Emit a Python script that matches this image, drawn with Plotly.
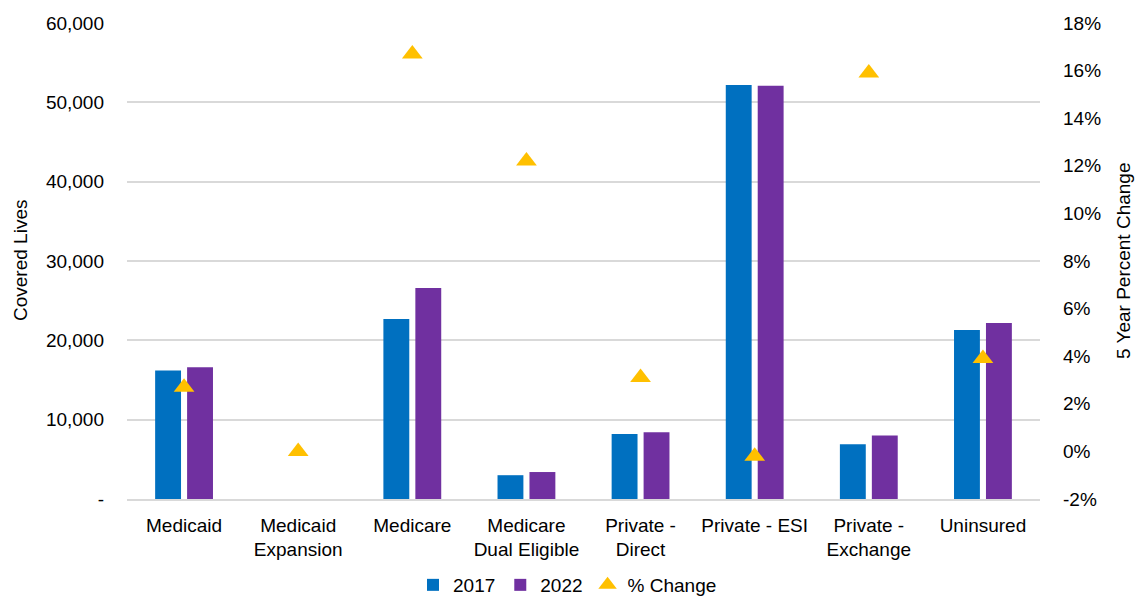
import plotly.graph_objects as go

categories = ["Medicaid", "Medicaid<br>Expansion", "Medicare", "Medicare<br>Dual Eligible",
              "Private -<br>Direct", "Private - ESI", "Private -<br>Exchange", "Uninsured"]
lives_2017 = [16200, 0, 22700, 3000, 8200, 52200, 6900, 21300]
lives_2022 = [16600, 0, 26600, 3400, 8400, 52100, 8000, 22200]
pct_change = [0.027, 0.0, 0.167, 0.122, 0.031, -0.002, 0.159, 0.039]

left_tickvals = [0, 10000, 20000, 30000, 40000, 50000, 60000]
left_ticktext = ["-", "10,000", "20,000", "30,000", "40,000", "50,000", "60,000"]
right_tickvals = [-0.02, 0, 0.02, 0.04, 0.06, 0.08, 0.10, 0.12, 0.14, 0.16, 0.18]
right_ticktext = ["-2%", "0%", "2%", "4%", "6%", "8%", "10%", "12%", "14%", "16%", "18%"]

FONT = "Liberation Sans, Arial, sans-serif"
FS = 19
fig = go.Figure()
fig.add_trace(go.Bar(x=categories, y=lives_2017, name="2017", marker_color="#0070C0",
                     marker_line_width=0))
fig.add_trace(go.Bar(x=categories, y=lives_2022, name="2022", marker_color="#7030A0",
                     marker_line_width=0))
fig.add_trace(go.Scatter(x=categories, y=pct_change, name="% Change", mode="markers",
                         yaxis="y2",
                         marker=dict(symbol="triangle-up", size=18, color="#FFC000")))

fig.update_layout(
    width=1135, height=596,
    margin=dict(l=127, r=95, t=23, b=97, autoexpand=False),
    paper_bgcolor="white", plot_bgcolor="white",
    font=dict(family=FONT, size=FS, color="#000000"),
    barmode="group", bargap=0.44, bargroupgap=0.19,
    showlegend=True,
    legend=dict(orientation="h", x=0.5, xanchor="center", xref="container",
                y=1 - 585 / 596, yanchor="middle", yref="container",
                font=dict(size=FS), traceorder="normal", itemwidth=30,
                bgcolor="rgba(0,0,0,0)"),
    xaxis=dict(showline=True, linecolor="#d9d9d9", linewidth=1.5, ticks="",
               tickfont=dict(size=FS), automargin=False, ticklabelstandoff=8),
    yaxis=dict(range=[0, 60000], tickvals=left_tickvals, ticktext=left_ticktext,
               showgrid=True, gridcolor="#d9d9d9", gridwidth=1.5, zeroline=False,
               ticklabelstandoff=22, automargin=False),
    yaxis2=dict(range=[-0.02, 0.18], tickvals=right_tickvals, ticktext=right_ticktext,
                overlaying="y", side="right", showgrid=False, zeroline=False,
                ticklabelstandoff=22, automargin=False),
    annotations=[
        dict(text="Covered Lives", xref="paper", yref="paper", x=(20 - 127) / 913,
             y=0.5, textangle=-90, showarrow=False, xanchor="center", yanchor="middle",
             font=dict(size=FS)),
        dict(text="5 Year Percent Change", xref="paper", yref="paper",
             x=(1123 - 127) / 913, y=0.5, textangle=-90, showarrow=False,
             xanchor="center", yanchor="middle", font=dict(size=FS)),
    ],
)
fig.write_html("out.html", config={"displayModeBar": False},
               post_script="document.body.style.margin='0';document.body.style.overflow='hidden';")
